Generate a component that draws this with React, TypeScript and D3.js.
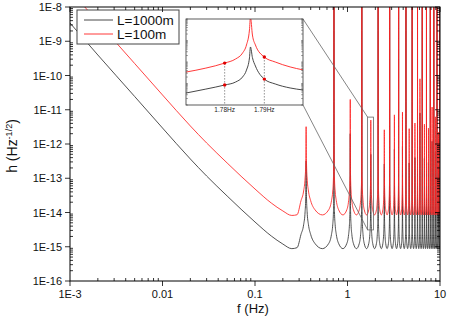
import React from "react";
import * as d3 from "d3";

const W = 450;
const H = 318;
const FONT = "'Liberation Sans', Arial, sans-serif";

// axis ticks
const xTicks = [0.001, 0.01, 0.1, 1, 10];
const xTickLabels = ["1E-3", "0.01", "0.1", "1", "10"];
const yTicks = [1e-16, 1e-15, 1e-14, 1e-13, 1e-12, 1e-11, 1e-10, 1e-9, 1e-8];
const yTickLabels = ["1E-16", "1E-15", "1E-14", "1E-13", "1E-12", "1E-11", "1E-10", "1E-9", "1E-8"];

// smooth low frequency branch (Hz, strain)
const lowFreq = [0.001, 0.002, 0.005, 0.01, 0.02, 0.03, 0.05, 0.1, 0.15, 0.2, 0.25, 0.285];
const lowBlack = [3.41e-9, 3.97e-10, 2.44e-11, 2.93e-12, 3.65e-13, 1.16e-13, 3.03e-14, 5.28e-15, 2.06e-15, 1.2e-15, 8.8e-16, 9.4e-16];
const lowRed = [3.13e-8, 3.65e-9, 2.24e-10, 2.7e-11, 3.36e-12, 1.07e-12, 2.79e-13, 4.85e-14, 1.89e-14, 1.11e-14, 8.2e-15, 8.6e-15];

// resonances
const peakFreq = [
  0.357, 0.714, 1.071, 1.429, 1.786, 2.143, 2.5, 2.857, 3.214, 3.571, 3.929, 4.286, 4.643, 5.0,
  5.357, 5.714, 6.071, 6.429, 6.786, 7.143, 7.5, 7.857, 8.214, 8.571, 8.929, 9.286, 9.643, 10.0,
];
const peakRed = [
  3.2e-12, 1e-6, 2.0e-11, 1e-6, 5.0e-12, 1e-6, 2.6e-12, 1e-6, 7.1e-12, 1e-6, 8.6e-12, 1e-6, 2.8e-12, 1e-6,
  4.1e-12, 1e-6, 8.0e-11, 1e-6, 3.8e-12, 1e-6, 2.9e-12, 1e-6, 1.2e-11, 1e-6, 6.2e-12, 1e-6, 2.2e-12, 1e-6,
];
const peakBlack = [
  3.2e-13, 1e-6, 2.0e-12, 1e-6, 5.0e-13, 1e-6, 2.6e-13, 1e-6, 7.0e-13, 1e-6, 8.6e-13, 1e-6, 2.8e-13, 1e-6,
  4.0e-13, 1e-6, 8.0e-12, 1e-6, 3.8e-13, 1e-6, 2.9e-13, 1e-6, 1.2e-12, 1e-6, 6.0e-13, 1e-6, 2.2e-13, 1e-6,
];
const troughBlack = 8.8e-16;
const troughRed = 8.5e-15;
// shape of a resonance: distance from the peak (fraction of spacing) and rise over the trough
const cuspOffset = [0.5, 0.25, 0.12, 0.06, 0.025, 0.01];
const cuspRise = [1, 1.4, 2.6, 5, 12, 30];

// inset, around 1.786 Hz
const insetFreq = [1.77025, 1.77525, 1.78, 1.78275, 1.7845, 1.7855, 1.78625, 1.7865, 1.787, 1.78775, 1.79, 1.79275, 1.7965, 1.79975];
const insetRed = [3.4e-14, 5.2e-14, 8.9e-14, 1.38e-13, 2.6e-13, 6.2e-13, 3.1e-12, 1.2e-11, 1.8e-12, 6.2e-13, 1.7e-13, 1e-13, 5.9e-14, 4.3e-14];
const insetBlack = [3.6e-15, 5.5e-15, 8.5e-15, 1.17e-14, 2e-14, 4.2e-14, 1.55e-13, 5e-13, 1.6e-13, 6.5e-14, 1.6e-14, 9.5e-15, 6.2e-15, 5e-15];
const markFreq = [1.78, 1.79];
const markRed = [8.9e-14, 1.7e-13];
const markBlack = [8.5e-15, 1.6e-14];
const insetTickLabels = ["1.78Hz", "1.79Hz"];
const zoomFreq = [1.65, 1.91];
const zoomH = [3.1e-15, 6.1e-12];

const series = [
  { name: "L=1000m", color: "#333", low: lowBlack, peaks: peakBlack, trough: troughBlack },
  { name: "L=100m", color: "#ff2222", low: lowRed, peaks: peakRed, trough: troughRed },
];

function buildCurve(low: number[], peaks: number[], trough: number) {
  const pts: [number, number][] = lowFreq.map((f, i) => [f, low[i]]);
  peakFreq.forEach((fp, i) => {
    const prev = i > 0 ? peakFreq[i - 1] : 0;
    const next = i < peakFreq.length - 1 ? peakFreq[i + 1] : fp + (fp - prev);
    cuspOffset.forEach((d, k) => {
      const f = fp - d * (fp - prev);
      if (f > pts[pts.length - 1][0]) pts.push([f, trough * cuspRise[k]]);
    });
    pts.push([fp, peaks[i]]);
    for (let k = cuspOffset.length - 1; k > 0; k--) {
      pts.push([fp + cuspOffset[k] * (next - fp), trough * cuspRise[k]]);
    }
  });
  return pts;
}

export default function App() {
  const plot = { left: 70, right: 440, top: 7, bottom: 281 };
  const inset = { left: 186, right: 303, top: 19, bottom: 105 };

  const x = d3.scaleLog().domain([1e-3, 10]).range([plot.left, plot.right]);
  const y = d3.scaleLog().domain([1e-16, 1e-8]).range([plot.bottom, plot.top]);
  const ix = d3.scaleLinear().domain([1.77025, 1.79975]).range([inset.left, inset.right]);
  const iy = d3.scaleLog().domain([1e-15, 1e-11]).range([inset.bottom, inset.top]);

  const line = d3
    .line<[number, number]>()
    .x((d) => x(d[0]))
    .y((d) => y(d[1]))
    .curve(d3.curveMonotoneX);
  const insetLine = (vals: number[]) =>
    d3
      .line<number>()
      .x((_, i) => ix(insetFreq[i]))
      .y((d) => iy(d))
      .curve(d3.curveMonotoneX)(vals) || "";

  const isMajor = (v: number, majors: number[]) => majors.some((m) => Math.abs(v / m - 1) < 1e-6);
  const xMinor = x.ticks().filter((v) => !isMajor(v, xTicks));
  const yMinor = y.ticks().filter((v) => !isMajor(v, yTicks));
  const iyMinor = iy.ticks();

  const zx0 = x(zoomFreq[0]);
  const zx1 = x(zoomFreq[1]);
  const zy0 = y(zoomH[1]);
  const zy1 = y(zoomH[0]);

  return (
    <svg width={W} height={H} style={{ position: "absolute", left: 0, top: 0, background: "#fff" }} fontFamily={FONT}>
      <defs>
        <clipPath id="plotClip">
          <rect x={plot.left} y={plot.top} width={plot.right - plot.left} height={plot.bottom - plot.top} />
        </clipPath>
        <clipPath id="insetClip">
          <rect x={inset.left} y={inset.top} width={inset.right - inset.left} height={inset.bottom - inset.top} />
        </clipPath>
      </defs>

      <g clipPath="url(#plotClip)">
        {series.map((s) => (
          <path key={s.name} d={line(buildCurve(s.low, s.peaks, s.trough)) || ""} fill="none" stroke={s.color} strokeWidth={0.85} />
        ))}
      </g>

      {/* zoom box and connectors */}
      <rect x={zx0} y={zy0} width={zx1 - zx0} height={zy1 - zy0} fill="none" stroke="#666" strokeWidth={0.8} />
      <line x1={inset.right} y1={inset.top} x2={zx0} y2={zy0} stroke="#666" strokeWidth={0.8} />
      <line x1={inset.right} y1={inset.bottom} x2={zx0} y2={zy1} stroke="#666" strokeWidth={0.8} />

      {/* inset */}
      <rect x={inset.left} y={inset.top} width={inset.right - inset.left} height={inset.bottom - inset.top} fill="#fff" />
      <g clipPath="url(#insetClip)">
        <path d={insetLine(insetBlack)} fill="none" stroke="#333" strokeWidth={0.9} />
        <path d={insetLine(insetRed)} fill="none" stroke="#ff2222" strokeWidth={0.9} />
      </g>
      {markFreq.map((f, i) => (
        <g key={f}>
          <line x1={ix(f)} x2={ix(f)} y1={iy(markRed[i])} y2={inset.bottom} stroke="#777" strokeWidth={0.8} strokeDasharray="1.5,1.5" />
          <circle cx={ix(f)} cy={iy(markRed[i])} r={1.7} fill="#e00000" />
          <circle cx={ix(f)} cy={iy(markBlack[i])} r={1.7} fill="#e00000" />
          <text x={ix(f)} y={inset.bottom + 7} fontSize={6.5} textAnchor="middle" fill="#222">
            {insetTickLabels[i]}
          </text>
        </g>
      ))}
      {iyMinor.map((v, i) => (
        <g key={"im" + i} stroke="#555" strokeWidth={0.5}>
          <line x1={inset.left} x2={inset.left + 2} y1={iy(v)} y2={iy(v)} />
          <line x1={inset.right} x2={inset.right - 2} y1={iy(v)} y2={iy(v)} />
        </g>
      ))}
      <rect x={inset.left} y={inset.top} width={inset.right - inset.left} height={inset.bottom - inset.top} fill="none" stroke="#333" strokeWidth={0.8} />

      {/* legend */}
      <rect x={77} y={10} width={102} height={34} fill="#fff" stroke="#444" strokeWidth={1} />
      {series.map((s, i) => (
        <g key={s.name}>
          <line x1={84} x2={113} y1={20 + i * 14} y2={20 + i * 14} stroke={s.color} strokeWidth={0.9} />
          <text x={117} y={25 + i * 14} fontSize={13.5} fill="#111">
            {s.name}
          </text>
        </g>
      ))}

      {/* axes frame */}
      <rect x={plot.left} y={plot.top} width={plot.right - plot.left} height={plot.bottom - plot.top} fill="none" stroke="#000" strokeWidth={1} />
      <g stroke="#000" strokeWidth={0.8}>
        {xTicks.map((v) => (
          <g key={"xM" + v}>
            <line x1={x(v)} x2={x(v)} y1={plot.bottom} y2={plot.bottom + 5} />
            <line x1={x(v)} x2={x(v)} y1={plot.top} y2={plot.top + 5} />
          </g>
        ))}
        {xMinor.map((v, i) => (
          <g key={"xm" + i}>
            <line x1={x(v)} x2={x(v)} y1={plot.bottom} y2={plot.bottom - 3} />
            <line x1={x(v)} x2={x(v)} y1={plot.top} y2={plot.top + 3} />
          </g>
        ))}
        {yTicks.map((v) => (
          <g key={"yM" + v}>
            <line x1={plot.left} x2={plot.left - 5} y1={y(v)} y2={y(v)} />
            <line x1={plot.right} x2={plot.right - 5} y1={y(v)} y2={y(v)} />
          </g>
        ))}
        {yMinor.map((v, i) => (
          <g key={"ym" + i}>
            <line x1={plot.left} x2={plot.left + 3} y1={y(v)} y2={y(v)} />
            <line x1={plot.right} x2={plot.right - 3} y1={y(v)} y2={y(v)} />
          </g>
        ))}
      </g>
      {xTicks.map((v, i) => (
        <text key={"xl" + v} x={x(v)} y={298} fontSize={11} textAnchor="middle" fill="#111">
          {xTickLabels[i]}
        </text>
      ))}
      {yTicks.map((v, i) => (
        <text key={"yl" + v} x={62} y={y(v) + 4} fontSize={11} textAnchor="end" fill="#111">
          {yTickLabels[i]}
        </text>
      ))}
      <text x={253} y={313} fontSize={13} textAnchor="middle" fill="#111">
        f (Hz)
      </text>
      <text transform="translate(17,146) rotate(-90)" fontSize={14} textAnchor="middle" fill="#111">
        h (Hz<tspan dy={-5} fontSize={9}>-1/2</tspan>
        <tspan dy={5}>)</tspan>
      </text>
    </svg>
  );
}
